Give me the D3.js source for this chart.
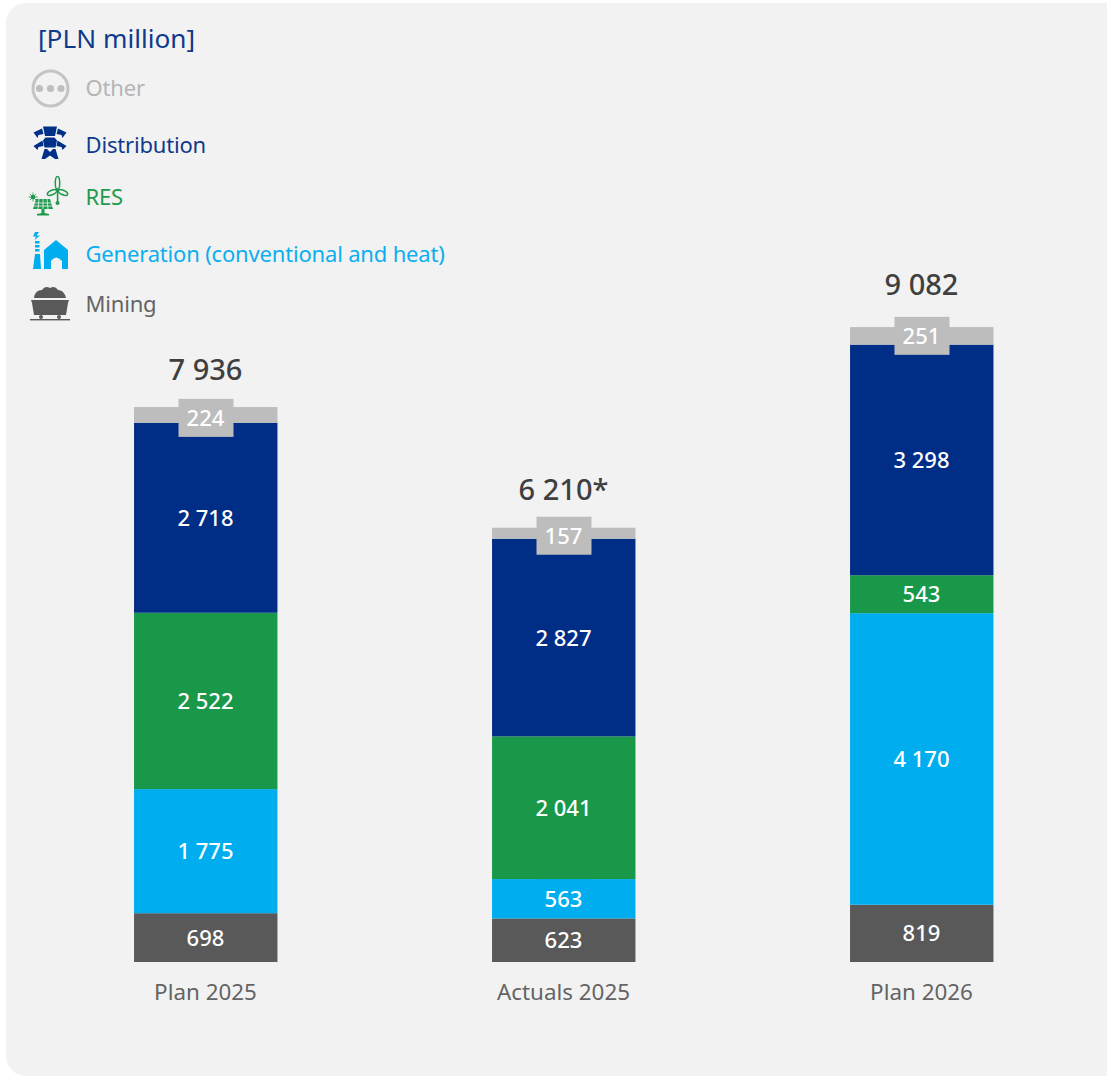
<!DOCTYPE html>
<html><head><meta charset="utf-8">
<script src="https://cdn.jsdelivr.net/npm/d3@7"></script>
<style>html,body{margin:0;padding:0;background:#fff}svg{display:block}text{font-family:"Noto Sans",sans-serif}</style>
</head><body><svg id="c" width="1107" height="1076"></svg>
<script>
const categories = ["Plan 2025","Actuals 2025","Plan 2026"];
const seriesNames = ["Mining","Generation (conventional and heat)","RES","Distribution","Other"];
const mining = [698,623,819];
const generation = [1775,563,4170];
const res = [2522,2041,543];
const distribution = [2718,2827,3298];
const other = [224,157,251];
const totalLabels = ["7 936","6 210*","9 082"];
const totalGaps = [27,28,32];
const otherBoxShift = [3,2.5,0];
const colors = ["#595959","#00aeef","#1a9849","#002d86","#bdbdbd"];
const legendColors = {"Other":"#b5b5b5","Distribution":"#0f3a8c","RES":"#1f9a4d","Generation (conventional and heat)":"#0baeef","Mining":"#646464"};

const svg = d3.select("#c");
svg.append("rect").attr("x",6).attr("y",3).attr("width",1140).attr("height",1073).attr("rx",20).attr("fill","#f2f2f2");

const rows = categories.map((c,i)=>({cat:c,Mining:mining[i],"Generation (conventional and heat)":generation[i],RES:res[i],Distribution:distribution[i],Other:other[i]}));
const stack = d3.stack().keys(seriesNames)(rows);
const x = d3.scaleBand().domain(categories).range([27,1101]).paddingInner(0.598).paddingOuter(0.299);
const y = d3.scaleLinear().domain([0,9082]).range([962,327]);
const fmt = v => { const s=String(v); return s.length>3? s.slice(0,-3)+" "+s.slice(-3):s; };
const cx = d => x(d.data.cat)+x.bandwidth()/2-0.5;

stack.forEach((layer,si)=>{
  const g = svg.append("g");
  g.selectAll("rect.s").data(layer).join("rect").attr("class","s")
    .attr("x",d=>x(d.data.cat)).attr("width",x.bandwidth()-0.5)
    .attr("y",d=>y(d[1])).attr("height",d=>y(d[0])-y(d[1])).attr("fill",colors[si]);
  const shift = (d,i)=> si===4 ? otherBoxShift[i] : 0;
  if(si===4){
    g.selectAll("rect.b").data(layer).join("rect").attr("class","b")
     .attr("x",d=>cx(d)-27).attr("width",55)
     .attr("y",(d,i)=>(y(d[0])+y(d[1]))/2+shift(d,i)-19).attr("height",38).attr("fill",colors[si]);
  }
  if(si===1){
    g.selectAll("rect.b").data(layer.filter(d=>d[1]-d[0]<600)).join("rect").attr("class","b")
     .attr("x",d=>cx(d)-27.5).attr("width",55)
     .attr("y",d=>y(d[1])-1.3).attr("height",20).attr("fill",colors[si]);
  }
  g.selectAll("text").data(layer).join("text")
    .attr("x",cx)
    .attr("y",(d,i)=>(y(d[0])+y(d[1]))/2+shift(d,i)+8)
    .attr("text-anchor","middle").attr("fill","#fff").attr("font-size",22).attr("font-weight",500)
    .text(d=>fmt(d[1]-d[0]));
});
// totals
svg.append("g").selectAll("text").data(rows).join("text")
  .attr("x",d=>x(d.cat)+x.bandwidth()/2-0.5)
  .attr("y",(d,i)=>y(d3.sum(seriesNames,k=>d[k]))-totalGaps[i])
  .attr("text-anchor","middle").attr("fill","#3f3f3f").attr("font-size",29).attr("font-weight",500)
  .text((d,i)=>totalLabels[i]);
// axis labels
const axis = d3.axisBottom(x).tickSize(0).tickPadding(22);
const ax = svg.append("g").attr("transform","translate(-0.5,962)").call(axis);
ax.select(".domain").remove();
ax.selectAll("text").attr("font-size",22.4).attr("fill","#646464").attr("font-family",'"Noto Sans",sans-serif');

// title
svg.append("text").attr("x",38).attr("y",47.5).attr("font-size",26.2).attr("fill","#0f3a8c").text("[PLN million]");

// legend
const legendY = {"Other":96,"Distribution":153,"RES":205,"Generation (conventional and heat)":262,"Mining":312};
seriesNames.forEach(n=>{
  svg.append("text").attr("x",85.5).attr("y",legendY[n]).attr("font-size",22).attr("letter-spacing",-0.18).attr("fill",legendColors[n]).text(n);
});
// icons
const ic = svg.append("g");
const bg = "#f2f2f2";
// other
const o = ic.append("g").attr("fill","#bfbfbf");
o.append("circle").attr("cx",50.5).attr("cy",88.5).attr("r",17.5).attr("fill","none").attr("stroke","#c4c4c4").attr("stroke-width",3);
[39.5,50.5,61].forEach(c=>o.append("circle").attr("cx",c).attr("cy",88.5).attr("r",3.6));
// distribution
const di=ic.append("g").attr("fill","#003087");
di.append("path").attr("d","M43 126.5 L57 126.5 L55 136 L45 136Z M33.5 132.5 L42 128.5 L43.5 134 L38.5 135 L37.5 138Z M58 128.5 L66.5 132.5 L62.5 138 L61.5 135 L56.5 134Z");
di.append("path").attr("d","M45.5 137.5 L54.5 137.5 L57 140.5 L55.5 147.5 L44.5 147.5 L43 140.5Z M33.5 146 L42.5 140.5 L43.5 146 L38.5 147 L37.5 150Z M57.5 140.5 L66.5 146 L62.5 150 L61.5 147 L56.5 146Z");
di.append("path").attr("d","M44.5 149 L47 149 L50 152 L53 149 L55.5 149 L58.5 159 L55 159 L50 155.5 L45 159 L41.5 159Z");
// RES
const r=ic.append("g").attr("fill","#1f9a4d");
r.append("path").attr("d","M33 209 L36 199 L50 199 L53 209Z M41.5 209 L44.5 209 L44.5 213 L49 214 L49 215.5 L37 215.5 L37 214 L41.5 213Z");
const grid=ic.append("g").attr("stroke",bg).attr("stroke-width",0.8);
[203,206].forEach(v=>grid.append("line").attr("x1",33).attr("x2",53).attr("y1",v).attr("y2",v));
[[39,38],[43,43],[47,48]].forEach(v=>grid.append("line").attr("x1",v[0]).attr("x2",v[1]).attr("y1",199).attr("y2",209));
r.append("circle").attr("cx",33).attr("cy",197).attr("r",2.2);
ic.append("g").attr("stroke","#1f9a4d").attr("stroke-width",0.8).selectAll("line").data(d3.range(8)).join("line")
  .attr("x1",33).attr("y1",197)
  .attr("x2",d=>33+4.5*Math.cos(d*Math.PI/4)).attr("y2",d=>197+4.5*Math.sin(d*Math.PI/4));
r.append("rect").attr("x",56.8).attr("y",190).attr("width",1.6).attr("height",13);
r.append("circle").attr("cx",57.5).attr("cy",203).attr("r",2);
r.append("circle").attr("cx",57.5).attr("cy",190).attr("r",1.8);
const rl=ic.append("g").attr("fill","none").attr("stroke","#1f9a4d").attr("stroke-width",1.5);
rl.append("ellipse").attr("cx",57.5).attr("cy",183).attr("rx",2.2).attr("ry",6.5);
rl.append("ellipse").attr("cx",52).attr("cy",192.5).attr("rx",5).attr("ry",2.2).attr("transform","rotate(-25 52 192.5)");
rl.append("ellipse").attr("cx",63).attr("cy",192.5).attr("rx",5).attr("ry",2.2).attr("transform","rotate(25 63 192.5)");
// generation
const gn=ic.append("g").attr("fill","#00aeef");
gn.append("path").attr("d","M33 269 L35 254 L40 254 L41 269Z");
[241,245,249].forEach(v=>gn.append("rect").attr("x",35).attr("y",v).attr("width",4.5).attr("height",2.5));
gn.append("path").attr("d","M35 232 L39 232 L36.5 235.5 L40 235.5 L34.5 240 L36 236.5 L33 236.5Z");
gn.append("path").attr("d","M44 250 L56 240 L68 250 L68 269 L62 269 L62 261 Q56 254 51 261 L51 269 L44 269Z");
// mining
const m=ic.append("g").attr("fill","#595959");
m.append("path").attr("d","M34 298 Q35 290 42 290 Q45 285 50 288 Q55 285 58 290 Q64 290 66 298Z");
m.append("path").attr("d","M31 300 L69 300 L68 303 L66 315 L34 315 L32 303Z");
m.append("rect").attr("x",30).attr("y",319).attr("width",40).attr("height",1.4);
m.append("circle").attr("cx",41).attr("cy",317).attr("r",2);
m.append("circle").attr("cx",59).attr("cy",317).attr("r",2);
</script></body></html>
